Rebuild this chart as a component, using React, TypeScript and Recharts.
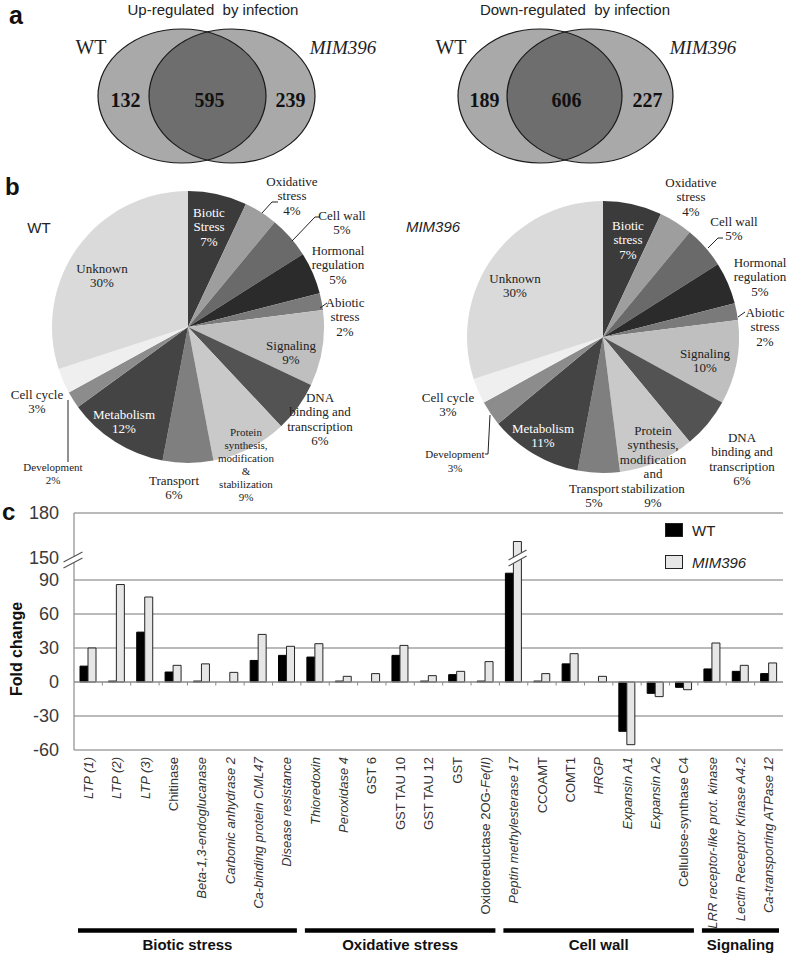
import React from 'react';
import {
  BarChart, Bar, XAxis, YAxis, CartesianGrid, ReferenceLine, ReferenceDot, Legend,
  PieChart, Pie, Cell,
} from 'recharts';

// ---------------- data: panel a (Venn counts) ----------------
const vennSetNames = ['WT', 'MIM396'];
const vennTitles = ['Up-regulated  by infection', 'Down-regulated  by infection'];
const upCounts = [132, 595, 239]; // WT only, shared, MIM396 only
const downCounts = [189, 606, 227];

// ---------------- data: panel b (functional categories, %) ----------------
const pieCategories = [
  'Biotic stress', 'Oxidative stress', 'Cell wall', 'Hormonal regulation', 'Abiotic stress',
  'Signaling', 'DNA binding and transcription', 'Protein synthesis, modification and stabilization',
  'Transport', 'Metabolism', 'Development', 'Cell cycle', 'Unknown',
];
const wtShares = [7, 4, 5, 5, 2, 9, 6, 9, 6, 12, 2, 3, 30];
const mimShares = [7, 4, 5, 5, 2, 10, 6, 9, 5, 11, 3, 3, 30];
const wtSliceLabels = [
  'Biotic\nStress', 'Oxidative\nstress', 'Cell wall', 'Hormonal\nregulation', 'Abiotic\nstress',
  'Signaling', 'DNA\nbinding and\ntranscription', 'Protein\nsynthesis,\nmodification\n&\nstabilization',
  'Transport', 'Metabolism', 'Development', 'Cell cycle', 'Unknown',
];
const mimSliceLabels = [
  'Biotic\nstress', 'Oxidative\nstress', 'Cell wall', 'Hormonal\nregulation', 'Abiotic\nstress',
  'Signaling', 'DNA\nbinding and\ntranscription', 'Protein\nsynthesis,\nmodification\nand\nstabilization',
  'Transport', 'Metabolism', 'Development', 'Cell cycle', 'Unknown',
];

// ---------------- data: panel c (fold change) ----------------
const genes = [
  'LTP (1)', 'LTP (2)', 'LTP (3)', 'Chitinase', 'Beta-1,3-endoglucanase', 'Carbonic anhydrase 2',
  'Ca-binding protein CML47', 'Disease resistance', 'Thioredoxin', 'Peroxidase 4', 'GST 6',
  'GST TAU 10', 'GST TAU 12', 'GST', 'Oxidoreductase 2OG-Fe(II)', 'Peptin methylesterase 17',
  'CCOAMT', 'COMT1', 'HRGP', 'Expansin A1', 'Expansin A2', 'Cellulose-synthase C4',
  'LRR receptor-like prot. kinase', 'Lectin Receptor Kinase A4.2', 'Ca-transporting ATPase 12',
];
const wtFold = [14, 0.8, 44, 8.8, 0.8, 0, 19, 23.5, 22, 0.8, 0, 23.5, 0.8, 6.5, 0.8, 96, 0.8, 16, 0, -43.5, -10, -4.7, 11.5, 9.4, 7.4];
const mimFold = [30, 86, 75, 14.7, 16, 8.5, 42, 31.5, 33.8, 5, 7.4, 32.3, 5.6, 9.4, 18, 161, 7.4, 25, 5, -55.3, -12.9, -6.8, 34.4, 14.7, 16.8];
const groupNames = ['Biotic stress', 'Oxidative stress', 'Cell wall', 'Signaling'];
const groupSizes = [8, 7, 7, 3];
const foldTicks = [-60, -30, 0, 30, 60, 90, 150, 180];
const foldGrid = [-60, -30, 30, 60, 90, 180];
const seriesNames = ['WT', 'MIM396'];

// ---------------- layout / style ----------------
const SANS = '"Liberation Sans", Arial, Helvetica, sans-serif';
const SERIF = '"Liberation Serif", "Times New Roman", serif';

const VENN = [
  { cxA: 182, cxB: 232, rxA: 84, rxB: 83, cy: 96, ry: 67, titleX: 213, wtX: 91, mimX: 343, counts: upCounts },
  { cxA: 540, cxB: 590, rxA: 82, rxB: 83, cy: 96, ry: 67, titleX: 575, wtX: 451, mimX: 703, counts: downCounts },
];

const sliceColors = ['#3b3b3b', '#9e9e9e', '#6a6a6a', '#2b2b2b', '#7a7a7a', '#bfbfbf', '#535353', '#c9c9c9', '#7f7f7f', '#444444', '#8c8c8c', '#efefef', '#dadada'];

type Place = { dx: number; dy: number; fs?: number; lh?: number; color?: string; leader?: number[][] };
const wtPlaces: Place[] = [
  { dx: 21, dy: -115, color: '#fff' },
  { dx: 104, dy: -146, leader: [[74, -114], [84, -125], [90, -125]] },
  { dx: 154, dy: -112, leader: [[104, -86], [127, -110], [132, -110]] },
  { dx: 150, dy: -77 },
  { dx: 157, dy: -25, leader: [[132, -19], [139, -24]] },
  { dx: 103, dy: 18 },
  { dx: 132, dy: 70 },
  { dx: 58, dy: 105, fs: 11, lh: 13 },
  { dx: -14, dy: 153 },
  { dx: -64, dy: 87, color: '#fff' },
  { dx: -135, dy: 140, fs: 11, lh: 13, leader: [[-120, 73], [-120, 135]] },
  { dx: -151, dy: 67 },
  { dx: -86, dy: -59 },
];
const mimPlaces: Place[] = [
  { dx: 25, dy: -112, color: '#fff' },
  { dx: 88, dy: -155 },
  { dx: 131, dy: -116, leader: [[105, -89], [115, -99], [120, -99]] },
  { dx: 157, dy: -75 },
  { dx: 162, dy: -25, leader: [[135, -20], [142, -25]] },
  { dx: 102, dy: 16 },
  { dx: 139, dy: 100 },
  { dx: 50, dy: 93, lh: 14.5 },
  { dx: -9, dy: 151 },
  { dx: -60, dy: 91, color: '#fff' },
  { dx: -148, dy: 117, fs: 11, lh: 14, leader: [[-113, 78], [-115, 117], [-118, 117]] },
  { dx: -155, dy: 60 },
  { dx: -88, dy: -59 },
];

// bar chart geometry
const PLOT_H = 237;
const LOWER_PX_PER_UNIT = 170 / 150;
const BREAK_LOW = 100;
const BREAK_HIGH = 150;
const SCALE_STOPS = [-60, BREAK_LOW, BREAK_HIGH, 180];
const SCALE_PX = [0, (BREAK_LOW + 60) * LOWER_PX_PER_UNIT, 192, PLOT_H];
const SCALE_FRACS = SCALE_PX.map((p) => p / PLOT_H);
const Y_TICK_MARGIN = 15;
const BAR_SIZE = 8;
const GROUP_INSET = 4;

function brokenScale(): any {
  let dom: number[] = [SCALE_STOPS[0], SCALE_STOPS[SCALE_STOPS.length - 1]];
  let rng: number[] = [1, 0];
  const s: any = (v: number) => {
    const n = Number(v);
    let i = 0;
    while (i < SCALE_STOPS.length - 2 && n > SCALE_STOPS[i + 1]) i++;
    const t = (n - SCALE_STOPS[i]) / (SCALE_STOPS[i + 1] - SCALE_STOPS[i]);
    const fr = SCALE_FRACS[i] + t * (SCALE_FRACS[i + 1] - SCALE_FRACS[i]);
    return rng[0] + fr * (rng[1] - rng[0]);
  };
  s.domain = (d?: number[]) => { if (d === undefined) return dom.slice(); dom = [...d]; return s; };
  s.range = (r?: number[]) => { if (r === undefined) return rng.slice(); rng = [...r]; return s; };
  s.rangeRound = s.range;
  s.copy = () => { const c = brokenScale(); c.domain(dom); c.range(rng); return c; };
  s.ticks = () => foldTicks.slice();
  s.tickFormat = () => (v: number) => String(v);
  s.nice = () => s;
  s.invert = (px: number) => {
    const fr = (px - rng[0]) / (rng[1] - rng[0]);
    let i = 0;
    while (i < SCALE_FRACS.length - 2 && fr > SCALE_FRACS[i + 1]) i++;
    const t = (fr - SCALE_FRACS[i]) / (SCALE_FRACS[i + 1] - SCALE_FRACS[i]);
    return SCALE_STOPS[i] + t * (SCALE_STOPS[i + 1] - SCALE_STOPS[i]);
  };
  return s;
}
const foldScale = brokenScale();

const barRows = genes.map((g, i) => ({ gene: g, wt: wtFold[i], mim: mimFold[i] }));
const wtPieRows = pieCategories.map((c, i) => ({ name: c, value: wtShares[i] }));
const mimPieRows = pieCategories.map((c, i) => ({ name: c, value: mimShares[i] }));

const italicGenes = new Set([
  'LTP (1)', 'LTP (2)', 'LTP (3)', 'Beta-1,3-endoglucanase', 'Carbonic anhydrase 2', 'Ca-binding protein CML47',
  'Disease resistance', 'Thioredoxin', 'Peroxidase 4', 'Peptin methylesterase 17', 'HRGP', 'Expansin A1',
  'Expansin A2', 'LRR receptor-like prot. kinase', 'Lectin Receptor Kinase A4.2', 'Ca-transporting ATPase 12',
]);
const italicSuffix: Record<string, string> = { 'Oxidoreductase 2OG-Fe(II)': 'Fe(II)' };

function BreakMark({ cx, cy, hw = 9.5 }: { cx: number; cy: number; hw?: number }) {
  const rise = 5;
  const gap = 3;
  const a = [cx - hw, cy + rise - gap];
  const b = [cx + hw, cy - rise - gap];
  const c = [cx + hw, cy - rise + gap];
  const d = [cx - hw, cy + rise + gap];
  return (
    <g>
      <polygon points={`${a} ${b} ${c} ${d}`} fill="#fff" />
      <line x1={a[0]} y1={a[1]} x2={b[0]} y2={b[1]} stroke="#555" strokeWidth={1.2} />
      <line x1={d[0]} y1={d[1]} x2={c[0]} y2={c[1]} stroke="#555" strokeWidth={1.2} />
    </g>
  );
}

function GeneTick(props: any) {
  const { x, y, payload, width, visibleTicksCount } = props;
  const band = typeof width === 'number' && visibleTicksCount ? width / visibleTicksCount : 28.36;
  const label = String(payload.value);
  const idx = genes.indexOf(label);
  let start = 0;
  let gi = 0;
  for (gi = 0; gi < groupSizes.length; gi++) {
    if (idx < start + groupSizes[gi]) break;
    start += groupSizes[gi];
  }
  const size = groupSizes[gi] ?? 1;
  const suffix = italicSuffix[label];
  return (
    <g>
      <text
        transform={`rotate(-90 ${x} ${y})`}
        x={x}
        y={y}
        dy="0.36em"
        textAnchor="end"
        fontSize={13}
        fill="#333"
        fontFamily={SANS}
        fontStyle={italicGenes.has(label) ? 'italic' : 'normal'}
      >
        {suffix ? (
          <>
            <tspan>{label.slice(0, label.length - suffix.length)}</tspan>
            <tspan fontStyle="italic">{suffix}</tspan>
          </>
        ) : label}
      </text>
      {idx === start && (
        <g>
          <line
            x1={x - band / 2 + GROUP_INSET}
            x2={x + (size - 0.5) * band - GROUP_INSET}
            y1={y + 173.5}
            y2={y + 173.5}
            stroke="#000"
            strokeWidth={4.3}
          />
          <text
            x={x + (size / 2 - 0.5) * band}
            y={y + 193}
            textAnchor="middle"
            fontWeight="bold"
            fontSize={15}
            fill="#111"
            fontFamily={SANS}
          >
            {groupNames[gi]}
          </text>
        </g>
      )}
    </g>
  );
}

function FoldTick(props: any) {
  const { x, y, payload } = props;
  const axisX = x + Y_TICK_MARGIN;
  return (
    <g>
      <text x={x} y={y} dy="0.35em" textAnchor="end" fontSize={18} fill="#3a3a3a" fontFamily={SANS}>
        {payload.value}
      </text>
      {payload.value === BREAK_HIGH && <BreakMark cx={axisX - 1} cy={y + 2} />}
    </g>
  );
}

function ZeroLine(props: any) {
  const { x1, y1, x2 } = props;
  const n = genes.length;
  const step = (x2 - x1) / n;
  const ticks = [];
  for (let i = 1; i < n; i++) {
    ticks.push(<line key={i} x1={x1 + i * step} x2={x1 + i * step} y1={y1} y2={y1 + 3.5} stroke="#8a8a8a" strokeWidth={1} />);
  }
  return (
    <g>
      <line x1={x1} x2={x2} y1={y1} y2={y1} stroke="#8a8a8a" strokeWidth={1.3} />
      {ticks}
    </g>
  );
}

function renderLegend(props: any) {
  const items = [...(props.payload ?? [])].sort(
    (a: any, b: any) => seriesNames.indexOf(a.value) - seriesNames.indexOf(b.value),
  );
  return (
    <div>
      {items.map((it: any, i: number) => (
        <div key={i} style={{ display: 'flex', alignItems: 'center', height: 32 }}>
          <span style={{ display: 'inline-block', width: 18, height: 14, boxSizing: 'border-box', background: it.color, border: '1px solid #222' }} />
          <span style={{ marginLeft: 9, fontFamily: SANS, fontSize: 15, color: '#222', fontStyle: it.value === seriesNames[1] ? 'italic' : 'normal' }}>
            {it.value}
          </span>
        </div>
      ))}
    </div>
  );
}

function makePieLabel(labels: string[], places: Place[]) {
  return (props: any) => {
    const { cx, cy, index, value } = props;
    const p = places[index];
    const fs = p.fs ?? 13;
    const lh = p.lh ?? 14.5;
    const lines = [...labels[index].split('\n'), `${value}%`];
    return (
      <g key={`pl-${index}`}>
        {p.leader && (
          <polyline
            points={p.leader.map(([lx, ly]) => `${cx + lx},${cy + ly}`).join(' ')}
            fill="none"
            stroke="#222"
            strokeWidth={1}
          />
        )}
        <text fill={p.color ?? '#222'} fontFamily={SERIF} fontSize={fs} textAnchor="middle">
          {lines.map((l, i) => (
            <tspan key={i} x={cx + p.dx} y={cy + p.dy + i * lh + fs * 0.35}>{l}</tspan>
          ))}
        </text>
      </g>
    );
  };
}

function VennDiagram({ v, k }: { v: typeof VENN[number]; k: number }) {
  const leftA = v.cxA - v.rxA;
  const leftB = v.cxB - v.rxB;
  const rightA = v.cxA + v.rxA;
  const rightB = v.cxB + v.rxB;
  const pos = [(leftA + leftB) / 2 + 2, (leftB + rightA) / 2 + 2, (rightA + rightB) / 2];
  return (
    <g>
      <defs>
        <clipPath id={`vennclip${k}`}>
          <ellipse cx={v.cxA} cy={v.cy} rx={v.rxA} ry={v.ry} />
        </clipPath>
      </defs>
      <text x={v.titleX} y={10} dy="0.35em" textAnchor="middle" fontFamily={SANS} fontSize={15} fill="#222" style={{ whiteSpace: 'pre' }}>
        {vennTitles[k]}
      </text>
      <ellipse cx={v.cxA} cy={v.cy} rx={v.rxA} ry={v.ry} fill="#a9a9a9" />
      <ellipse cx={v.cxB} cy={v.cy} rx={v.rxB} ry={v.ry} fill="#a9a9a9" />
      <ellipse cx={v.cxB} cy={v.cy} rx={v.rxB} ry={v.ry} fill="#6e6e6e" clipPath={`url(#vennclip${k})`} />
      <ellipse cx={v.cxA} cy={v.cy} rx={v.rxA} ry={v.ry} fill="none" stroke="#1a1a1a" strokeWidth={1.2} />
      <ellipse cx={v.cxB} cy={v.cy} rx={v.rxB} ry={v.ry} fill="none" stroke="#1a1a1a" strokeWidth={1.2} />
      <text x={v.wtX} y={47} dy="0.35em" textAnchor="middle" fontFamily={SERIF} fontSize={20} fill="#222">{vennSetNames[0]}</text>
      <text x={v.mimX} y={47} dy="0.35em" textAnchor="middle" fontFamily={SERIF} fontSize={19} fontStyle="italic" fill="#222">{vennSetNames[1]}</text>
      {v.counts.map((c, i) => (
        <text key={i} x={pos[i]} y={100} dy="0.35em" textAnchor="middle" fontFamily={SERIF} fontWeight="bold" fontSize={20} fill="#111">
          {c}
        </text>
      ))}
    </g>
  );
}

export default function App() {
  const brokenGenes = genes.filter((_, i) => mimFold[i] > BREAK_LOW);
  return (
    <div style={{ position: 'absolute', left: 0, top: 0, width: 787, height: 957, background: '#fff', overflow: 'hidden' }}>
      {/* panel b: pies */}
      <div style={{ position: 'absolute', left: 0, top: 168 }}>
        <PieChart width={787} height={360}>
          <Pie
            data={wtPieRows}
            dataKey="value"
            nameKey="name"
            cx={183}
            cy={154}
            outerRadius={136}
            startAngle={90}
            endAngle={-270}
            stroke="none"
            isAnimationActive={false}
            labelLine={false}
            label={makePieLabel(wtSliceLabels, wtPlaces)}
          >
            {wtPieRows.map((r, i) => <Cell key={r.name} fill={sliceColors[i]} />)}
          </Pie>
          <Pie
            data={mimPieRows}
            dataKey="value"
            nameKey="name"
            cx={598}
            cy={164}
            outerRadius={136}
            startAngle={90}
            endAngle={-270}
            stroke="none"
            isAnimationActive={false}
            labelLine={false}
            label={makePieLabel(mimSliceLabels, mimPlaces)}
          >
            {mimPieRows.map((r, i) => <Cell key={r.name} fill={sliceColors[i]} />)}
          </Pie>
        </PieChart>
      </div>

      {/* panel c: bars */}
      <div style={{ position: 'absolute', left: 0, top: 500 }}>
        <BarChart width={787} height={457} data={barRows} margin={{ top: 13, right: 4, left: 0, bottom: 0 }} barGap={0}>
          <CartesianGrid vertical={false} horizontalValues={foldGrid} stroke="#a3a3a3" strokeWidth={1.3} />
          <XAxis
            dataKey="gene"
            type="category"
            interval={0}
            height={207}
            tickSize={0}
            tickMargin={7}
            axisLine={false}
            tickLine={false}
            tick={<GeneTick />}
          />
          <YAxis
            type="number"
            domain={[-60, 180]}
            scale={foldScale}
            ticks={foldTicks}
            interval={0}
            width={74}
            tickSize={0}
            tickMargin={Y_TICK_MARGIN}
            tickLine={false}
            axisLine={{ stroke: '#8c8c8c', strokeWidth: 1.2 }}
            tick={<FoldTick />}
          />
          <Legend
            layout="vertical"
            align="center"
            verticalAlign="middle"
            itemSorter={null as any}
            wrapperStyle={{ left: 665, top: 14, width: 120 }}
            content={renderLegend}
          />
          <Bar dataKey="wt" name={seriesNames[0]} fill="#000" stroke="#000" strokeWidth={1} barSize={BAR_SIZE} isAnimationActive={false} />
          <Bar dataKey="mim" name={seriesNames[1]} fill="#e6e6e6" stroke="#262626" strokeWidth={1} barSize={BAR_SIZE} isAnimationActive={false} />
          <ReferenceLine y={0} shape={<ZeroLine />} />
          {brokenGenes.map((g) => (
            <ReferenceDot
              key={g}
              x={g}
              y={BREAK_HIGH}
              r={0}
              ifOverflow="visible"
              shape={(p: any) => <BreakMark cx={p.cx + BAR_SIZE / 2} cy={p.cy} hw={9} />}
            />
          ))}
        </BarChart>
      </div>

      {/* text overlay: panel letters, venns, titles */}
      <svg width={787} height={957} style={{ position: 'absolute', left: 0, top: 0, pointerEvents: 'none' }}>
        <text x={9} y={24} fontFamily={SANS} fontWeight="bold" fontSize={25} fill="#111">a</text>
        <text x={5} y={195} fontFamily={SANS} fontWeight="bold" fontSize={24} fill="#111">b</text>
        <text x={2} y={520} fontFamily={SANS} fontWeight="bold" fontSize={24} fill="#111">c</text>
        {VENN.map((v, k) => <VennDiagram key={k} v={v} k={k} />)}
        <text x={39} y={228} dy="0.35em" textAnchor="middle" fontFamily={SANS} fontSize={15} fill="#222">{seriesNames[0]}</text>
        <text x={433} y={227} dy="0.35em" textAnchor="middle" fontFamily={SANS} fontSize={15} fontStyle="italic" fill="#222">{seriesNames[1]}</text>
        <text transform="translate(16,649) rotate(-90)" textAnchor="middle" dy="0.35em" fontFamily={SANS} fontWeight="bold" fontSize={16} fill="#111">
          Fold change
        </text>
      </svg>
    </div>
  );
}
